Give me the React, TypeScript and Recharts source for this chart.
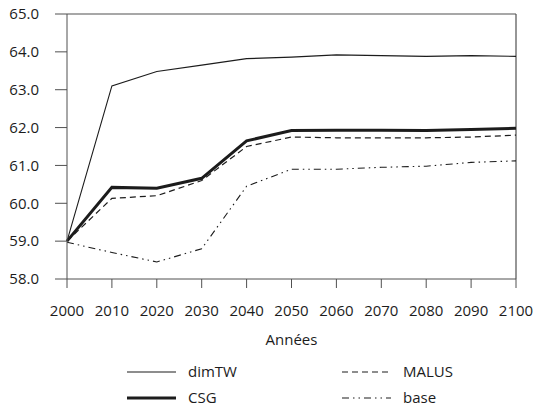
// Espérance de vie projetée par scénario, 2000–2100.
import { LineChart, Line, XAxis, YAxis, ReferenceLine } from "recharts";

const years = [2000, 2010, 2020, 2030, 2040, 2050, 2060, 2070, 2080, 2090, 2100];
const dimTW = [59.0, 63.1, 63.48, 63.65, 63.82, 63.86, 63.92, 63.9, 63.88, 63.9, 63.88];
const csg = [59.0, 60.42, 60.4, 60.66, 61.65, 61.92, 61.93, 61.93, 61.92, 61.95, 61.98];
const malus = [59.0, 60.13, 60.2, 60.6, 61.5, 61.75, 61.73, 61.73, 61.73, 61.75, 61.8];
const base = [58.97, 58.7, 58.45, 58.8, 60.45, 60.9, 60.9, 60.95, 60.98, 61.08, 61.12];
const yTicks = [58, 59, 60, 61, 62, 63, 64, 65];

const INK = "#1c1c1c";
const AXIS = "#505050";
const FONT = "'Open Sans', sans-serif";

// Styles per series; legend order is column by column.
const series = [
  { key: "dimTW", label: "dimTW", width: 1.1, dash: undefined },
  { key: "csg", label: "CSG", width: 3, dash: undefined },
  { key: "malus", label: "MALUS", width: 1.2, dash: "6 4" },
  { key: "base", label: "base", width: 1.1, dash: "7 4 1.5 4 1.5 4" },
];

const data = years.map((year, i) => ({
  year,
  dimTW: dimTW[i],
  csg: csg[i],
  malus: malus[i],
  base: base[i],
}));

const legendSlots = [
  { x: 127, y: 372 },
  { x: 127, y: 398 },
  { x: 342, y: 372 },
  { x: 342, y: 398 },
];

export default function App() {
  const tick = { fill: INK, fontSize: 15, fontFamily: FONT };
  return (
    <div style={{ position: "absolute", left: 0, top: 0, width: 535, height: 408, background: "#fff" }}>
      <LineChart width={535} height={408} data={data} margin={{ top: 14, right: 19, bottom: 59, left: 0 }}>
        <XAxis
          dataKey="year"
          type="number"
          domain={[2000, 2100]}
          ticks={years}
          height={70}
          tickSize={9}
          tickMargin={17}
          tick={tick}
          stroke={AXIS}
          interval={0}
          label={{ value: "Années", position: "insideBottom", offset: 4, fill: INK, fontSize: 15, fontFamily: FONT }}
        />
        <YAxis
          domain={[58, 65]}
          ticks={yTicks}
          width={67}
          tickSize={12}
          tickMargin={16}
          tick={tick}
          stroke={AXIS}
          tickFormatter={(v: number) => v.toFixed(1)}
        />
        <ReferenceLine y={65} stroke={AXIS} strokeWidth={1.2} />
        <ReferenceLine x={2100} stroke={AXIS} strokeWidth={1.2} />
        {series.map((s) => (
          <Line
            key={s.key}
            dataKey={s.key}
            type="linear"
            stroke={INK}
            strokeWidth={s.width}
            strokeDasharray={s.dash}
            dot={false}
            isAnimationActive={false}
          />
        ))}
      </LineChart>
      <svg width={535} height={408} style={{ position: "absolute", left: 0, top: 0, pointerEvents: "none" }}>
        {series.map((s, i) => {
          const p = legendSlots[i];
          return (
            <g key={s.key}>
              <line x1={p.x} x2={p.x + 49} y1={p.y} y2={p.y} stroke={INK} strokeWidth={s.width} strokeDasharray={s.dash} />
              <text x={p.x + 61} y={p.y + 5} fontSize={15} fontFamily={FONT} fill={INK}>
                {s.label}
              </text>
            </g>
          );
        })}
      </svg>
    </div>
  );
}
